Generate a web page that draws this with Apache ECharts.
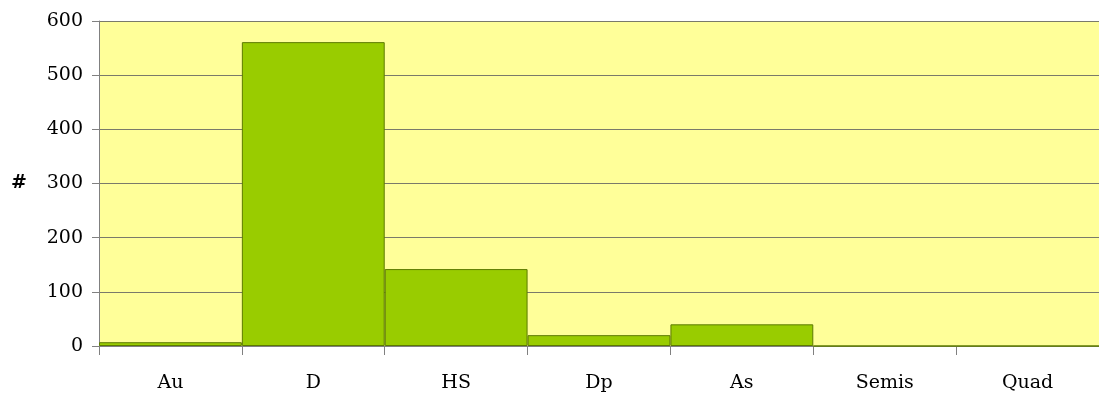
<!DOCTYPE html>
<html>
<head>
    <meta charset="utf-8">
    <title>chart</title>
    <script src="https://cdn.jsdelivr.net/npm/echarts@6/dist/echarts.min.js"></script>
    <style>
        html, body { margin: 0; padding: 0; background: #fff; }
        #main { width: 1099px; height: 401px; }
    </style>
</head>
<body>
<div id="main"></div>
<script>
    // data
    var categories = ['Au', 'D', 'HS', 'Dp', 'As', 'Semis', 'Quad'];
    var counts = [7, 561, 142, 20, 40, 0, 0];
    var yTicks = [0, 100, 200, 300, 400, 500, 600];

    var chart = echarts.init(document.getElementById('main'));
    var serif = '"DejaVu Serif", "Liberation Serif", serif';

    var option = {
        animation: false,
        grid: {
            left: 99, right: 0, top: 21, bottom: 55,
            show: true,
            backgroundColor: '#ffff99',
            borderWidth: 0
        },
        xAxis: {
            type: 'category',
            data: categories,
            axisLine: {lineStyle: {color: '#808080', width: 1}},
            axisTick: {show: true, length: 9, lineStyle: {color: '#808080'}},
            axisLabel: {color: '#000', fontFamily: serif, fontSize: 19, margin: 28}
        },
        yAxis: {
            type: 'value',
            min: yTicks[0],
            max: yTicks[yTicks.length - 1],
            interval: 100,
            name: '#',
            nameLocation: 'middle',
            nameGap: 72,
            nameRotate: 0,
            nameTextStyle: {color: '#000', fontWeight: 'bold', fontSize: 19, fontFamily: serif},
            axisLine: {show: true, lineStyle: {color: '#808080'}},
            axisTick: {show: true, length: 7, lineStyle: {color: '#808080'}},
            axisLabel: {color: '#000', fontFamily: serif, fontSize: 19, margin: 16},
            splitLine: {lineStyle: {color: '#7a7a6a', width: 1}}
        },
        series: [{
            type: 'bar',
            data: counts,
            barWidth: '100%',
            barCategoryGap: 0,
            itemStyle: {color: '#99cc00', borderColor: '#5c7a00', borderWidth: 1}
        }]
    };
    chart.setOption(option);
</script>
</body>
</html>
